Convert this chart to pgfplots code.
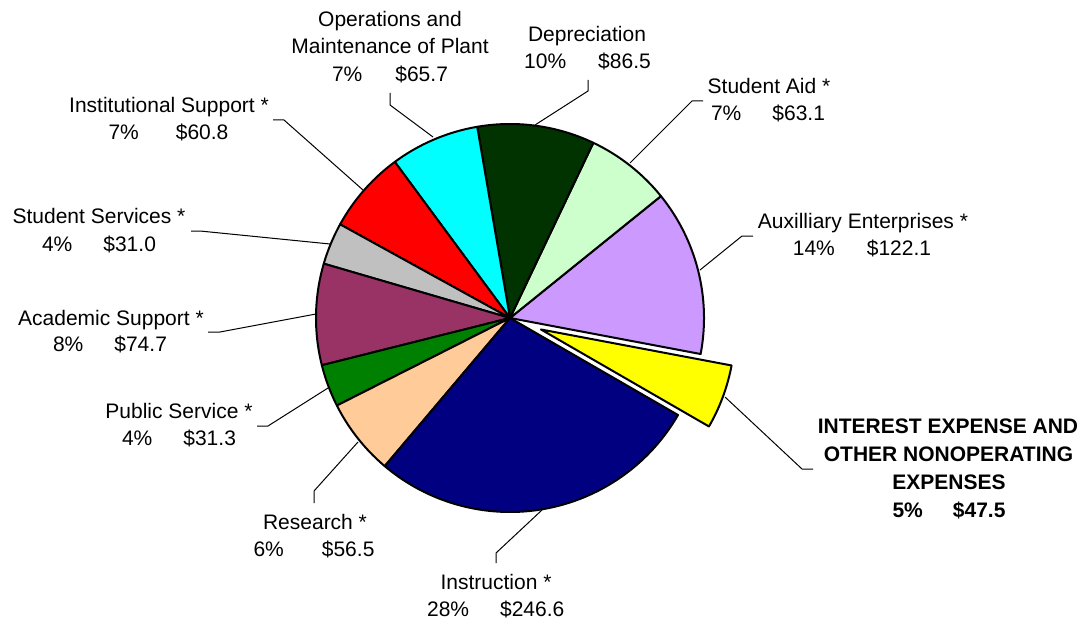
\documentclass[border=0pt]{standalone}
\usepackage{fontspec}
\setmainfont{Liberation Sans}
\usepackage{pgfplots}
\pgfplotsset{compat=1.18}
\definecolor{cInstr}{RGB}{0,0,128}
\definecolor{cRes}{RGB}{255,204,153}
\definecolor{cPS}{RGB}{0,128,0}
\definecolor{cAS}{RGB}{153,51,102}
\definecolor{cSS}{RGB}{192,192,192}
\definecolor{cIS}{RGB}{255,0,0}
\definecolor{cOM}{RGB}{0,255,255}
\definecolor{cDep}{RGB}{0,51,0}
\definecolor{cSA}{RGB}{204,255,204}
\definecolor{cAux}{RGB}{204,153,255}
\definecolor{cInt}{RGB}{255,255,0}
\tikzset{
  lbl/.style={anchor=base, inner sep=0pt, font=\fontsize{10.5}{13}\selectfont},
  blbl/.style={anchor=base, inner sep=0pt, font=\fontsize{10.5}{13}\selectfont\bfseries},
  leader/.style={line width=0.5pt, draw=black}}
\newcommand\pieslice[5]{%
  \addplot[draw=black, line width=1pt, line join=round, fill=#3,
    domain=#1:#2, samples=80, variable=\t]
    ({#4+194*cos(\t)},{#5-194*sin(\t)}) -- (axis cs:#4,#5) -- cycle;}
\begin{document}
\begin{tikzpicture}
\def\tot{885.8}
\pgfmathsetmacro\aA{-10.7}
\pgfmathsetmacro\aB{\aA+122.1/\tot*360}% Auxilliary Enterprises
\pgfmathsetmacro\aC{\aB+63.1/\tot*360}% Student Aid
\pgfmathsetmacro\aD{\aC+86.5/\tot*360}% Depreciation
\pgfmathsetmacro\aE{\aD+65.7/\tot*360}% Operations and Maintenance
\pgfmathsetmacro\aF{\aE+60.8/\tot*360}% Institutional Support
\pgfmathsetmacro\aG{\aF+31.0/\tot*360}% Student Services
\pgfmathsetmacro\aH{\aG+74.7/\tot*360}% Academic Support
\pgfmathsetmacro\aI{\aH+31.3/\tot*360}% Public Service
\pgfmathsetmacro\aJ{\aI+56.5/\tot*360}% Research
\pgfmathsetmacro\aK{\aJ+246.6/\tot*360}% Instruction
\pgfmathsetmacro\aL{\aK+47.5/\tot*360}% Interest
\pgfmathsetmacro\aM{(\aK+\aL)/2}
\pgfmathsetmacro\ex{510+33*cos(\aM)}
\pgfmathsetmacro\ey{318-33*sin(\aM)}
\begin{axis}[scale only axis, width=545pt, height=310pt,
  xmin=0, xmax=1090, ymin=0, ymax=620, y dir=reverse,
  hide axis, clip=false]
\path (axis cs:0,0) rectangle (axis cs:1090,620);
\pieslice{\aA}{\aB}{cAux}{510}{318}
\pieslice{\aB}{\aC}{cSA}{510}{318}
\pieslice{\aC}{\aD}{cDep}{510}{318}
\pieslice{\aD}{\aE}{cOM}{510}{318}
\pieslice{\aE}{\aF}{cIS}{510}{318}
\pieslice{\aF}{\aG}{cSS}{510}{318}
\pieslice{\aG}{\aH}{cAS}{510}{318}
\pieslice{\aH}{\aI}{cPS}{510}{318}
\pieslice{\aI}{\aJ}{cRes}{510}{318}
\pieslice{\aJ}{\aK}{cInstr}{510}{318}
\pieslice{\aK}{\aL}{cInt}{\ex}{\ey}
% leader lines
\draw[leader] (axis cs:390,93) -- (axis cs:390,105) -- (axis cs:433,137);
\draw[leader] (axis cs:588,80) -- (axis cs:588,91) -- (axis cs:535,125);
\draw[leader] (axis cs:703,101) -- (axis cs:692,101) -- (axis cs:630,163);
\draw[leader] (axis cs:273,120) -- (axis cs:284,120) -- (axis cs:363,190);
\draw[leader] (axis cs:191,231) -- (axis cs:200,231) -- (axis cs:330,244);
\draw[leader] (axis cs:753,236) -- (axis cs:742,236) -- (axis cs:700,270);
\draw[leader] (axis cs:208,332) -- (axis cs:220,332) -- (axis cs:316,314);
\draw[leader] (axis cs:257,426) -- (axis cs:268,426) -- (axis cs:328,388);
\draw[leader] (axis cs:314,503) -- (axis cs:314,491) -- (axis cs:358,442);
\draw[leader] (axis cs:496,563) -- (axis cs:496,553) -- (axis cs:542,510);
\draw[leader] (axis cs:813,469) -- (axis cs:802,469) -- (axis cs:725,397);
% labels
\node[lbl] at (axis cs:390,27) {Operations and};
\node[lbl] at (axis cs:390,54) {Maintenance of Plant};
\node[lbl] at (axis cs:390,81.5) {7\%\hspace{16.5pt}\$65.7};
\node[lbl] at (axis cs:587,41.5) {Depreciation};
\node[lbl] at (axis cs:587.5,69) {10\%\hspace{16pt}\$86.5};
\node[lbl] at (axis cs:769,94) {Student Aid *};
\node[lbl] at (axis cs:768,121) {7\%\hspace{15.5pt}\$63.1};
\node[lbl] at (axis cs:863,228) {Auxilliary Enterprises *};
\node[lbl] at (axis cs:862,255.5) {14\%\hspace{16pt}\$122.1};
\node[lbl] at (axis cs:169,113) {Institutional Support *};
\node[lbl] at (axis cs:168.5,140) {7\%\hspace{18.5pt}\$60.8};
\node[lbl] at (axis cs:99,223) {Student Services *};
\node[lbl] at (axis cs:99,251.5) {4\%\hspace{15.5pt}\$31.0};
\node[lbl] at (axis cs:111,325) {Academic Support *};
\node[lbl] at (axis cs:110,351.5) {8\%\hspace{15.5pt}\$74.7};
\node[lbl] at (axis cs:179,418) {Public Service *};
\node[lbl] at (axis cs:179,445.5) {4\%\hspace{15.5pt}\$31.3};
\node[lbl] at (axis cs:315,529) {Research *};
\node[lbl] at (axis cs:314,556) {6\%\hspace{19pt}\$56.5};
\node[lbl] at (axis cs:496,589) {Instruction *};
\node[lbl] at (axis cs:495.7,616) {28\%\hspace{15.5pt}\$246.6};
\node[blbl] at (axis cs:948,433) {INTEREST EXPENSE AND};
\node[blbl] at (axis cs:948.5,461.5) {OTHER NONOPERATING};
\node[blbl] at (axis cs:949,489) {EXPENSES};
\node[blbl] at (axis cs:949,517) {5\%\hspace{15pt}\$47.5};
\end{axis}
\end{tikzpicture}
\end{document}
